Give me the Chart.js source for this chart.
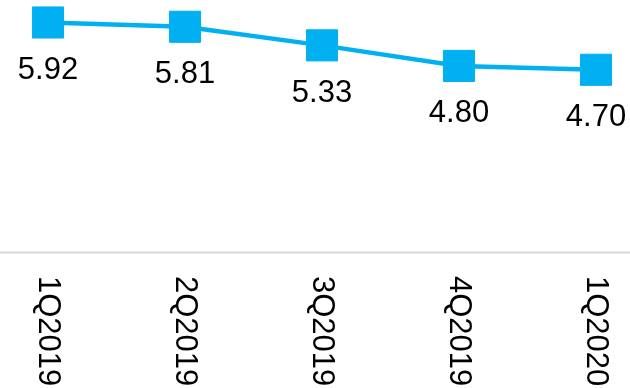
<!DOCTYPE html>
<html>
<head>
<meta charset="utf-8">
<script src="https://cdn.jsdelivr.net/npm/chart.js@4/dist/chart.umd.min.js"></script>
<style>
  html, body { margin: 0; padding: 0; background: #fff; }
  #wrap { width: 630px; height: 388px; }
</style>
</head>
<body>
<div id="wrap"><canvas id="lineChart"></canvas></div>
<script>
const quarters = ['1Q2019', '2Q2019', '3Q2019', '4Q2019', '1Q2020'];
const values = [5.92, 5.81, 5.33, 4.80, 4.70];

const lineColor = '#00B0F0';
const font = '31px "Liberation Sans", Arial, sans-serif';

// value labels under each point, baseline axis and rotated quarter labels
const labelsPlugin = {
  id: 'labels',
  afterDatasetsDraw(chart) {
    const ctx = chart.ctx;
    const xScale = chart.scales.x;
    const yScale = chart.scales.y;
    const baseY = yScale.getPixelForValue(0);

    ctx.save();
    ctx.strokeStyle = '#d9d9d9';
    ctx.lineWidth = 2;
    ctx.beginPath();
    ctx.moveTo(0, baseY + 0.5);
    ctx.lineTo(chart.width, baseY + 0.5);
    ctx.stroke();

    ctx.fillStyle = '#000';
    ctx.font = font;
    ctx.textAlign = 'center';
    ctx.textBaseline = 'middle';
    chart.getDatasetMeta(0).data.forEach((pt, i) => {
      ctx.fillText(values[i].toFixed(2), pt.x, pt.y + 48);
    });

    ctx.textAlign = 'left';
    quarters.forEach((q, i) => {
      const x = xScale.getPixelForValue(i);
      ctx.save();
      ctx.translate(x, baseY + 24);
      ctx.rotate(Math.PI / 2);
      ctx.fillText(q, 0, 0);
      ctx.restore();
    });
    ctx.restore();
  }
};

new Chart(document.getElementById('lineChart'), {
  type: 'line',
  data: {
    labels: quarters,
    datasets: [{
      data: values,
      borderColor: lineColor,
      backgroundColor: lineColor,
      borderWidth: 4.5,
      pointStyle: 'rect',
      pointRadius: 22,
      pointHoverRadius: 22,
      pointBorderWidth: 1,
      pointBorderColor: lineColor,
      pointBackgroundColor: lineColor,
      tension: 0,
      clip: false
    }]
  },
  options: {
    responsive: true,
    maintainAspectRatio: false,
    animation: false,
    layout: { autoPadding: false, padding: { left: 48, right: 34, top: 0, bottom: 136 } },
    plugins: { legend: { display: false }, tooltip: { enabled: false } },
    scales: {
      x: { display: false, offset: false },
      y: { display: false, min: 0, max: 6.5 }
    }
  },
  plugins: [labelsPlugin]
});
</script>
</body>
</html>
